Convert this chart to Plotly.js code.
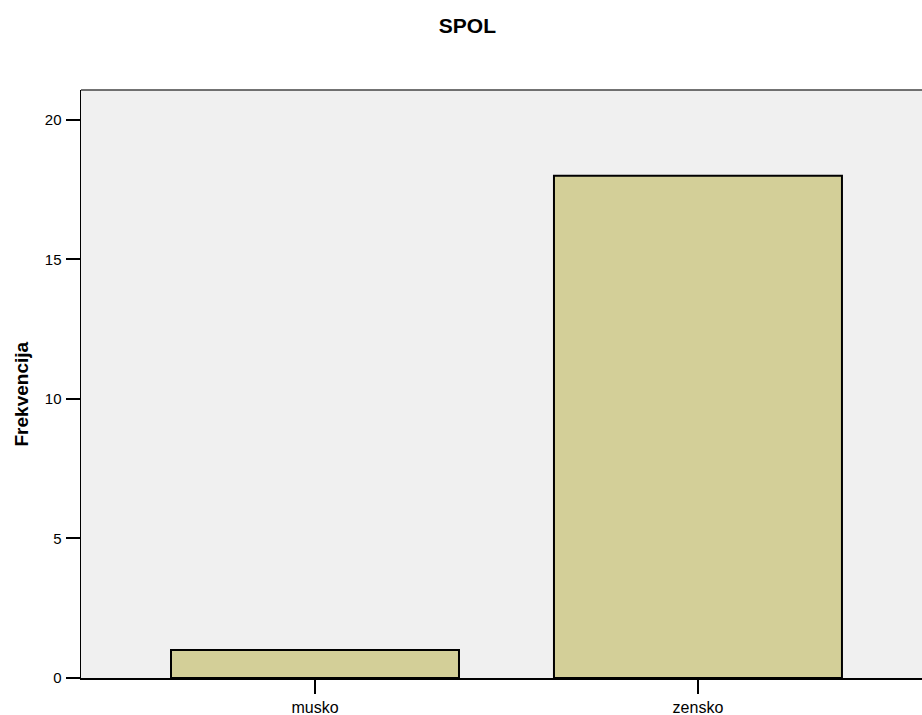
<!DOCTYPE html>
<html><head><meta charset="utf-8">
<script src="https://cdn.plot.ly/plotly-3.0.1.min.js"></script>
<style>body{margin:0;padding:0;background:#fff}#chart{width:922px;height:715px}</style>
</head><body><div id="chart"></div>
<script>
const categories = ["musko", "zensko"];
const frequencies = [1, 18];
const yTickValues = [0, 5, 10, 15, 20];
const chartTitle = "SPOL";
const yTitle = "Frekvencija";

const trace = {
  type: "bar",
  x: categories,
  y: frequencies,
  width: 0.752,
  marker: {color: "#d3cf98", line: {color: "#000000", width: 2}},
  hoverinfo: "x+y"
};

const layout = {
  width: 922, height: 715,
  margin: {l: 81, r: 0, t: 90, b: 37, pad: 0},
  paper_bgcolor: "#ffffff",
  plot_bgcolor: "#f0f0f0",
  font: {family: "Liberation Sans, Arial, sans-serif", color: "#000"},
  title: {text: "<b>" + chartTitle + "</b>", font: {size: 21, color: "#000"}, x: 0.507, xanchor: "center", y: 0.9636, yanchor: "middle"},
  xaxis: {
    type: "category",
    range: [-0.611, 1.585],
    showgrid: false, zeroline: false,
    showline: true, linecolor: "#000", linewidth: 1.5,
    ticks: "outside", ticklen: 14, tickwidth: 2, tickcolor: "#000",
    tickfont: {size: 16},
    fixedrange: true
  },
  yaxis: {
    range: [0, 21.07],
    tickvals: yTickValues,
    showgrid: false, zeroline: false,
    showline: true, linecolor: "#000", linewidth: 1.5,
    ticks: "outside", ticklen: 14, tickwidth: 2, tickcolor: "#000",
    tickfont: {size: 15},
    ticklabelstandoff: 1,
    fixedrange: true
  },
  annotations: [
    {text: "<b>" + yTitle + "</b>", xref: "paper", yref: "paper", x: -0.0702, y: 0.4838,
     xanchor: "center", yanchor: "middle", textangle: -90, showarrow: false, font: {size: 19, color: "#000"}}
  ],
  shapes: [
    {type: "line", xref: "paper", yref: "paper", x0: 0, x1: 1, y0: 1, y1: 1, line: {color: "#444", width: 1.5}}
  ],
  showlegend: false
};

Plotly.newPlot("chart", [trace], layout, {displayModeBar: false, staticPlot: true});
</script></body></html>
